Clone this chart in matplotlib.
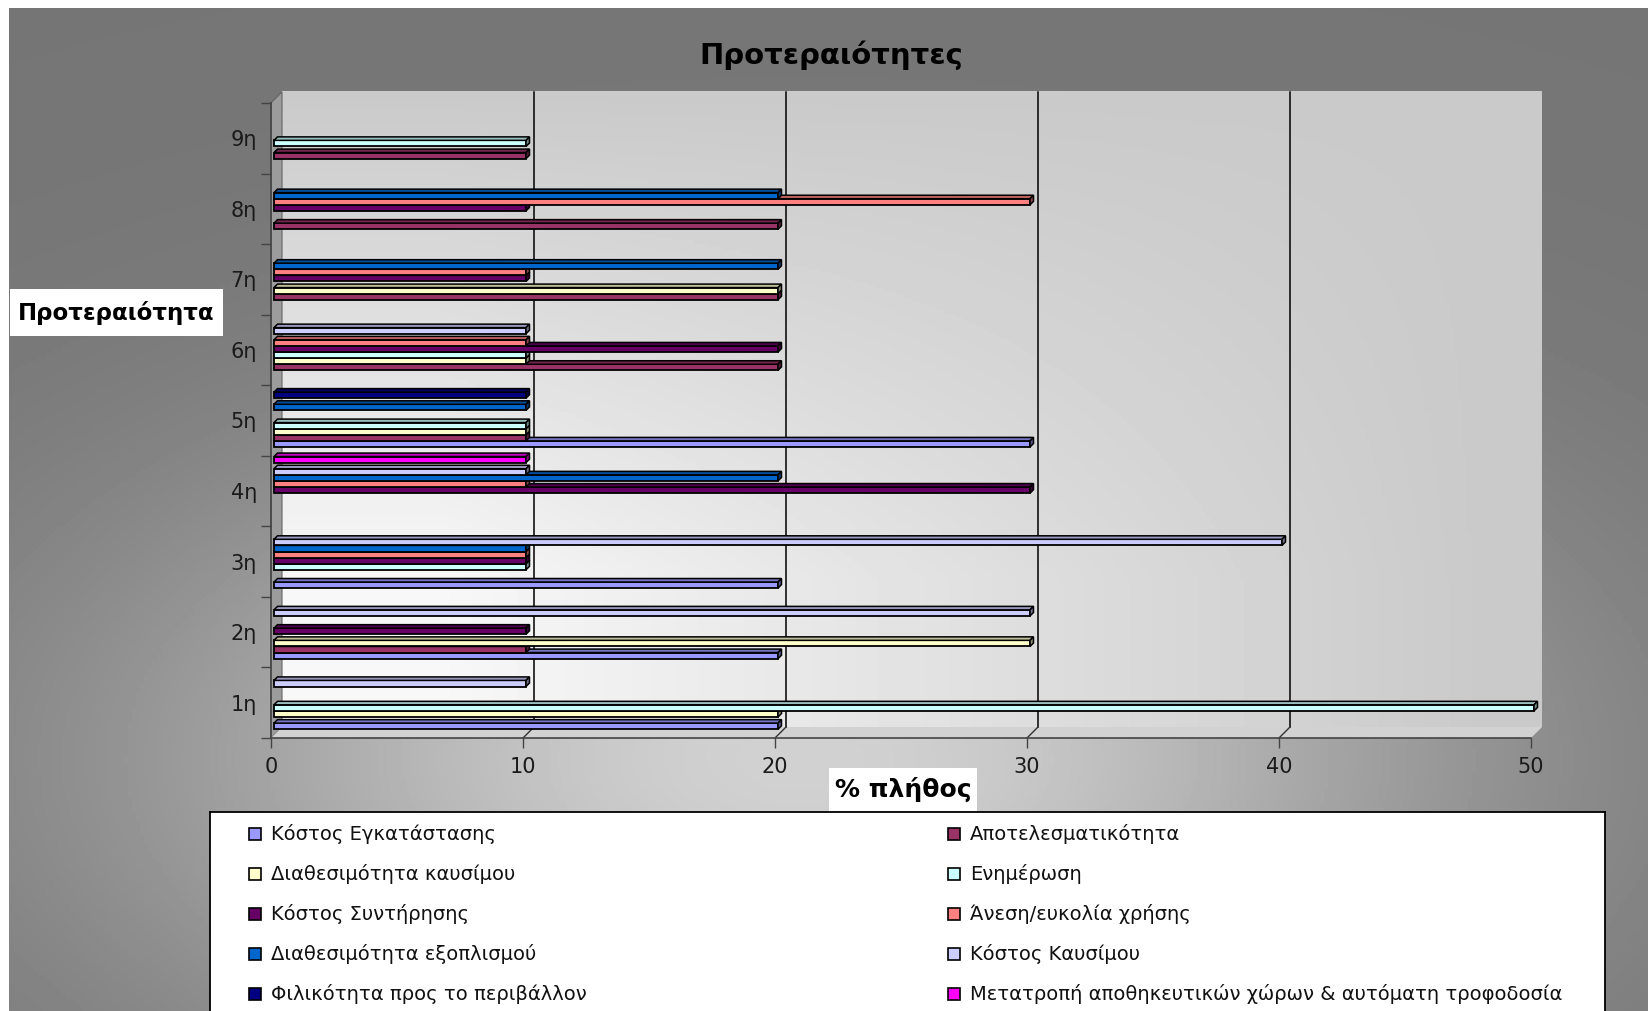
import numpy as np
import matplotlib
matplotlib.use("Agg")
import matplotlib.pyplot as plt
from matplotlib.patches import Polygon, Rectangle

# data (values in %), categories from bottom (1η) to top (9η)
categories = ["1η", "2η", "3η", "4η", "5η", "6η", "7η", "8η", "9η"]
series_names = [
    "Κόστος Εγκατάστασης",
    "Αποτελεσματικότητα",
    "Διαθεσιμότητα καυσίμου",
    "Ενημέρωση",
    "Κόστος Συντήρησης",
    "Άνεση/ευκολία χρήσης",
    "Διαθεσιμότητα εξοπλισμού",
    "Κόστος Καυσίμου",
    "Φιλικότητα προς το περιβάλλον",
    "Μετατροπή αποθηκευτικών χώρων & αυτόματη τροφοδοσία",
]
kostos_egkatastasis = [20, 20, 20, 0, 30, 0, 0, 0, 0]
apotelesmatikotita = [0, 10, 0, 0, 10, 20, 20, 20, 10]
diathesimotita_kausimou = [20, 30, 0, 0, 10, 10, 20, 0, 0]
enimerosi = [50, 0, 10, 0, 10, 10, 0, 0, 10]
kostos_syntirisis = [0, 10, 10, 30, 0, 20, 10, 10, 0]
anesi = [0, 0, 10, 10, 0, 10, 10, 30, 0]
diathesimotita_exoplismou = [0, 0, 10, 20, 10, 0, 20, 20, 0]
kostos_kausimou = [10, 30, 40, 10, 0, 10, 0, 0, 0]
filikotita = [0, 0, 0, 0, 10, 0, 0, 0, 0]
metatropi = [0, 0, 0, 10, 0, 0, 0, 0, 0]
series_values = [kostos_egkatastasis, apotelesmatikotita, diathesimotita_kausimou,
                 enimerosi, kostos_syntirisis, anesi, diathesimotita_exoplismou,
                 kostos_kausimou, filikotita, metatropi]
colors = ["#9999FF", "#993366", "#FFFFCC", "#CCFFFF", "#660066",
          "#FF8080", "#0066CC", "#CCCCFF", "#000080", "#FF00FF"]
x_ticks = [0, 10, 20, 30, 40, 50]

W, H = 1648, 1011
fig = plt.figure(figsize=(W / 100, H / 100), dpi=100)
fig.patch.set_facecolor("white")


def px_box(x0, y0, x1, y1):
    # pixel box (top-left origin) -> figure fraction rect
    return [x0 / W, 1 - y1 / H, (x1 - x0) / W, (y1 - y0) / H]


def shade(c, f):
    r, g, b = matplotlib.colors.to_rgb(c)
    return (r * f, g * f, b * f)


# gray gradient background
bg = fig.add_axes(px_box(9, 8, W, H), zorder=0)
xx, yy = np.meshgrid(np.linspace(9, W, 400), np.linspace(8, H, 250))
v = 0.46 + 0.36 * np.exp(-((xx - 800) / 650) ** 2 - ((yy - 760) / 330) ** 2)
bg.imshow(v, cmap="gray", vmin=0, vmax=1, aspect="auto", extent=(0, 1, 0, 1), origin="upper")
bg.axis("off")

# main axes: x 0..50 -> px 271..1531, categories 0..9 -> px 738..103
ax = fig.add_axes(px_box(271, 103, 1531, 738), zorder=1)
ax.patch.set_alpha(0)
ux = 50 / 1260
uy = 9 / 635
dwx, dwy = 11 * ux, 11 * uy

# back wall with gradient (lighter towards the lower left)
gx, gy = np.meshgrid(np.linspace(0, 1, 300), np.linspace(0, 1, 200))
s = np.clip(gy * 1.3, 0, 1) * np.clip(1.15 - 1.2 * gx, 0, 1)
wall = 0.79 + 0.18 * s
ax.imshow(wall[::-1], cmap="gray", vmin=0, vmax=1, aspect="auto", origin="lower",
          extent=(dwx, 50 + dwx, dwy, 9 + dwy), zorder=0, clip_on=False)

ax.add_patch(Polygon([(0, 0), (0, 9), (dwx, 9 + dwy), (dwx, dwy)], closed=True,
                     facecolor="#9c9c9c", edgecolor="#666666", lw=0.8, zorder=1, clip_on=False))
ax.add_patch(Polygon([(0, 0), (50, 0), (50 + dwx, dwy), (dwx, dwy)], closed=True,
                     facecolor="#d2d2d2", edgecolor="none", zorder=1, clip_on=False))
for t in x_ticks[1:-1]:
    ax.plot([t + dwx, t + dwx], [dwy, 9 + dwy], color="black", lw=1.1, zorder=2, clip_on=False)
    ax.plot([t, t + dwx], [0, dwy], color="#333333", lw=1, zorder=2, clip_on=False)
ax.plot([0, 0], [0, 9], color="#444444", lw=1.2, zorder=3, clip_on=False)
ax.plot([0, 50], [0, 0], color="#444444", lw=1.2, zorder=3, clip_on=False)

# bars with pseudo 3D faces
slot = 6.1 * uy
sx, sy = 3 * ux, 4 * uy
bdx, bdy = 3.5 * ux, 3.5 * uy
ypos_base = np.arange(len(categories)) + 0.5
for k, (vals, c) in enumerate(zip(series_values, colors)):
    vals = np.array(vals, dtype=float)
    ys = ypos_base + (k - 4.5) * slot + sy
    m = vals > 0
    z = 10 + k
    ax.barh(ys[m], vals[m], height=slot, left=sx, color=c, edgecolor="black",
            lw=1.3, zorder=z, clip_on=False)
    for yv, val in zip(ys[m], vals[m]):
        top = yv + slot / 2
        bot = yv - slot / 2
        ax.add_patch(Polygon([(sx, top), (sx + val, top), (sx + val + bdx, top + bdy), (sx + bdx, top + bdy)],
                             closed=True, facecolor=shade(c, 0.75), edgecolor="black", lw=1.1,
                             zorder=z, clip_on=False))
        ax.add_patch(Polygon([(sx + val, bot), (sx + val, top), (sx + val + bdx, top + bdy), (sx + val + bdx, bot + bdy)],
                             closed=True, facecolor=shade(c, 0.55), edgecolor="black", lw=1.1,
                             zorder=z, clip_on=False))

ax.set_xlim(0, 50)
ax.set_ylim(0, 9)
for sp in ax.spines.values():
    sp.set_visible(False)
ax.set_xticks(x_ticks)
ax.set_xticklabels([str(t) for t in x_ticks], fontsize=15, color="#1a1a1a")
ax.tick_params(axis="x", length=7, width=1, color="#444444", pad=7)
ax.set_yticks(ypos_base)
ax.set_yticklabels(categories, fontsize=15, color="#1a1a1a")
ax.tick_params(axis="y", which="major", length=0, pad=10)
ax.set_yticks(np.arange(len(categories) + 1), minor=True)
ax.tick_params(axis="y", which="minor", length=7, width=1, color="#444444")

# title and axis labels
fig.text(831 / W, 1 - 55 / H, "Προτεραιότητες", ha="center", va="center",
         fontsize=21, fontweight="bold", color="black")
fig.add_artist(Rectangle((10 / W, 1 - 336 / H), 213 / W, 47 / H, transform=fig.transFigure,
                         facecolor="white", edgecolor="none", zorder=3))
fig.text(116 / W, 1 - 313 / H, "Προτεραιότητα", ha="center", va="center",
         fontsize=16.5, fontweight="bold", color="black", zorder=4)
fig.add_artist(Rectangle((829 / W, 1 - 811 / H), 148 / W, 43 / H, transform=fig.transFigure,
                         facecolor="white", edgecolor="none", zorder=3))
fig.text(903 / W, 1 - 790 / H, "% πλήθος", ha="center", va="center",
         fontsize=18, fontweight="bold", color="black", zorder=4)

# legend box (runs off the bottom edge)
lg = fig.add_axes(px_box(210, 812, 1605, 1011), zorder=2)
lg.set_xlim(0, 1395)
lg.set_ylim(199, 0)
lg.set_facecolor("white")
lg.set_xticks([])
lg.set_yticks([])
lg.spines["bottom"].set_visible(False)
for sp in ["top", "left", "right"]:
    lg.spines[sp].set_linewidth(1.3)
    lg.spines[sp].set_color("black")
order = [0, 2, 4, 6, 8, 1, 3, 5, 7, 9]
for n, idx in enumerate(order):
    col, row = divmod(n, 5)
    x0 = 39 + col * 699
    yc = 21.5 + row * 40
    lg.add_patch(Rectangle((x0, yc - 6), 12, 12, facecolor=colors[idx], edgecolor="black", lw=1.2))
    lg.text(x0 + 22, yc, series_names[idx], ha="left", va="center", fontsize=14, color="#111111")

fig.savefig("out.png", dpi=100)
